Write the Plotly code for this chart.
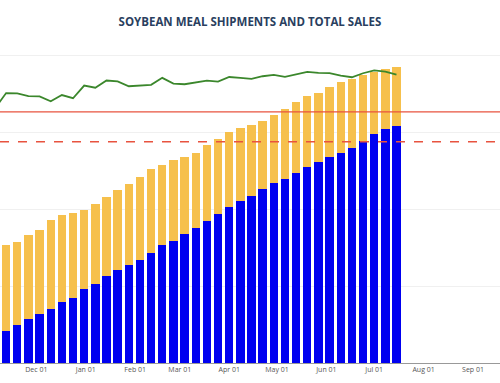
import plotly.graph_objects as go
import pandas as pd

# Weekly report dates (bar0 only carries the green line point)
line_dates = list(pd.date_range("2020-11-05", periods=37, freq="7D").strftime("%Y-%m-%d"))
bar_dates = line_dates[1:]

# Accumulated shipments (thousand MT)
shipments = [1241, 1475, 1709, 1904, 2127, 2388, 2556, 2907, 3090, 3403, 3637, 3816,
             4039, 4300, 4612, 4780, 5026, 5287, 5549, 5806, 6095, 6341, 6536, 6797,
             7031, 7187, 7422, 7667, 7851, 8058, 8202, 8382, 8682, 8955, 9123, 9240]
# Total sales (shipments + outstanding)
total_sales = [4624, 4729, 5002, 5198, 5599, 5794, 5873, 5962, 6196, 6470, 6770, 7004,
               7250, 7578, 7745, 7913, 8030, 8186, 8526, 8760, 9006, 9177, 9279, 9462,
               9669, 9903, 10204, 10411, 10528, 10789, 10972, 11090, 11230, 11363, 11491, 11569]
outstanding = [t - s for t, s in zip(total_sales, shipments)]
# Comparison line
green_line = [9931, 10535, 10524, 10418, 10407, 10215, 10457, 10333, 10828, 10742, 11023,
              10992, 10801, 10816, 10855, 11129, 10906, 10879, 10965, 11023, 10984, 11160,
              11129, 11090, 11191, 11246, 11168, 11269, 11363, 11324, 11316, 11218, 11152,
              11308, 11421, 11367, 11257]
usda_projection = 9802
usda_prev = 8635

fig = go.Figure()
fig.add_trace(go.Bar(x=bar_dates, y=shipments, name="Shipments", marker_color="#0000F0",
                     marker_line_width=0))
fig.add_trace(go.Bar(x=bar_dates, y=outstanding, name="Outstanding Sales",
                     marker_color="#F6C04C", marker_line_width=0))
fig.add_trace(go.Scatter(x=line_dates, y=green_line, mode="lines", name="Total Sales LY",
                         line=dict(color="#3B872C", width=1.8)))
fig.add_hline(y=usda_projection, line=dict(color="#E8533F", width=1.3))
fig.add_hline(y=usda_prev, line=dict(color="#E8533F", width=1.3, dash="dash"))

fig.update_layout(
    width=500, height=383,
    margin=dict(l=0, r=0, t=50, b=20),
    barmode="stack", bargap=0.25,
    plot_bgcolor="white", paper_bgcolor="white",
    showlegend=False,
    title=dict(text="<b>SOYBEAN MEAL SHIPMENTS AND TOTAL SALES</b>", x=0.5, xanchor="center",
               y=0.942, yanchor="middle",
               font=dict(family="Open Sans", size=11.5, color="#2a3f5f")),
    font=dict(family="Open Sans"),
)
fig.update_xaxes(type="date", range=["2020-11-08 04:00", "2021-09-17 23:00"],
                 dtick="M1", tick0="2020-09-01", tickformat="%b %d",
                 tickfont=dict(size=7, color="#555"), showgrid=False,
                 showline=True, linecolor="#999", linewidth=1, ticks="")
fig.update_yaxes(range=[0, 12215], dtick=3000, showticklabels=False,
                 gridcolor="#f0f0f0", zeroline=False)

fig.write_html("out.html")
